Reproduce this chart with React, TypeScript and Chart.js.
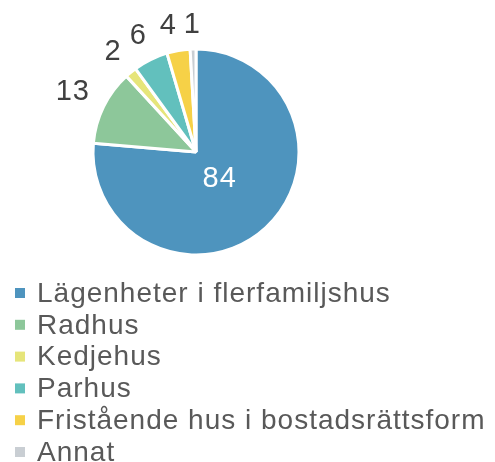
import React, { useEffect, useRef } from "react";
import { Chart, registerables } from "chart.js";

Chart.register(...registerables);

const categories = [
  "Lägenheter i flerfamiljshus",
  "Radhus",
  "Kedjehus",
  "Parhus",
  "Fristående hus i bostadsrättsform",
  "Annat",
];
const values = [84, 13, 2, 6, 4, 1];
const colors = ["#4E94BE", "#8DC79A", "#E6E57A", "#62C0BD", "#F6D147", "#C9CED3"];

const FONT = "'Liberation Sans', Arial, sans-serif";

const labelPlugin = {
  id: "sliceLabels",
  afterDatasetsDraw(chart: any) {
    const ctx = chart.ctx;
    const meta = chart.getDatasetMeta(0);
    const total = values.reduce((a, b) => a + b, 0);
    ctx.save();
    ctx.textAlign = "center";
    ctx.textBaseline = "middle";
    ctx.font = `29px ${FONT}`;
    try { (ctx as any).letterSpacing = "1px"; } catch (e) {}
    const placed: { l: number; r: number; t: number; b: number }[] = [];
    const n = meta.data.length;
    for (let i = n - 1; i >= 0; i--) {
      const arc: any = meta.data[i];
      const { x, y, startAngle, endAngle, outerRadius } = arc.getProps(
        ["x", "y", "startAngle", "endAngle", "outerRadius"],
        true
      );
      const text = String(values[i]);
      const inside = values[i] / total > 0.5;
      let mid = (startAngle + endAngle) / 2;
      const hw = ctx.measureText(text).width / 2;
      const hh = 11;
      if (inside) {
        const d = outerRadius * 0.34;
        ctx.fillStyle = "#FFFFFF";
        ctx.fillText(text, x + Math.cos(mid) * d, y + Math.sin(mid) * d + 1);
        continue;
      }
      let px = 0, py = 0;
      for (let step = 0; step < 60; step++) {
        const cx = Math.cos(mid);
        const cy = Math.sin(mid);
        const d = outerRadius + 14 + Math.abs(cx) * hw + Math.abs(cy) * hh;
        px = x + cx * d;
        py = y + cy * d;
        const pad = 6;
        const hit = placed.some(
          (p) => px - hw < p.r + pad && px + hw > p.l - pad && py - hh < p.b && py + hh > p.t
        );
        if (!hit) break;
        mid -= Math.PI / 360;
      }
      placed.push({ l: px - hw, r: px + hw, t: py - hh, b: py + hh });
      ctx.fillStyle = "#404040";
      ctx.fillText(text, px, py + 1);
    }
    ctx.restore();
  },
};

const legendPlugin = {
  id: "customLegend",
  afterDraw(chart: any) {
    const ctx = chart.ctx;
    ctx.save();
    ctx.textBaseline = "middle";
    ctx.textAlign = "left";
    ctx.font = `28px ${FONT}`;
    try { (ctx as any).letterSpacing = "1px"; } catch (e) {}
    const startY = 293;
    const rowH = 31.8;
    categories.forEach((c, i) => {
      const cy = startY + i * rowH;
      ctx.fillStyle = colors[i];
      ctx.fillRect(15, cy - 5, 10, 10);
      ctx.fillStyle = "#595959";
      ctx.fillText(c, 37, cy + 1);
    });
    ctx.restore();
  },
};

export default function App() {
  const ref = useRef<HTMLCanvasElement>(null);
  useEffect(() => {
    if (!ref.current) return;
    const chart = new Chart(ref.current, {
      type: "pie",
      data: {
        labels: categories,
        datasets: [
          {
            data: values,
            backgroundColor: colors,
            borderColor: "#FFFFFF",
            borderWidth: 3,
            hoverOffset: 0,
          },
        ],
      },
      options: {
        responsive: false,
        animation: false,
        radius: 103,
        layout: { padding: { top: 49, bottom: 207, left: 0, right: 103 } },
        plugins: {
          legend: { display: false },
          tooltip: { enabled: false },
        },
      } as any,
      plugins: [labelPlugin, legendPlugin],
    });
    return () => chart.destroy();
  }, []);
  return (
    <div style={{ position: "fixed", left: 0, top: 0, width: 495, height: 462, background: "#fff" }}>
      <canvas ref={ref} width={495} height={462} style={{ display: "block" }} />
    </div>
  );
}
